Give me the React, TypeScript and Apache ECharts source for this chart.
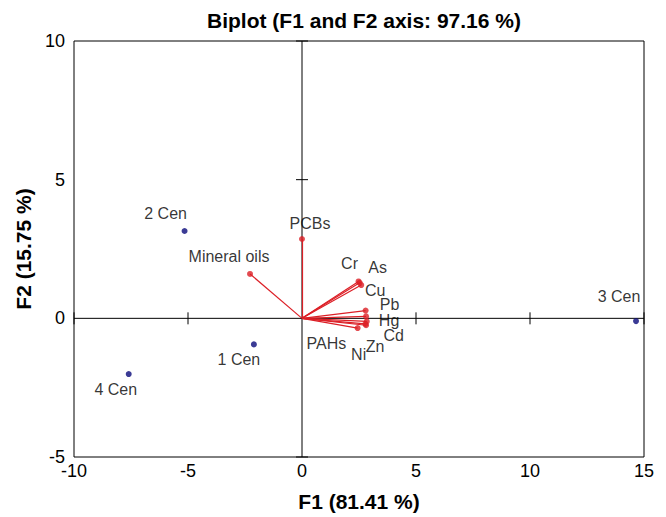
import React, { useEffect, useRef } from "react";
import * as echarts from "echarts";

const obsNames = ["1 Cen", "2 Cen", "3 Cen", "4 Cen"];
const obsF1 = [-2.11, -5.15, 14.65, -7.6];
const obsF2 = [-0.94, 3.15, -0.1, -2.01];

const varNames = ["PCBs", "Mineral oils", "Cr", "As", "Cu", "Pb", "Hg", "Cd", "Zn", "Ni", "PAHs"];
const varF1 = [0.0, -2.28, 2.48, 2.53, 2.6, 2.79, 2.81, 2.84, 2.81, 2.44, 2.78];
const varF2 = [2.86, 1.6, 1.33, 1.28, 1.2, 0.28, 0.07, -0.11, -0.25, -0.35, -0.2];

const xTicks = [-10, -5, 0, 5, 10, 15];
const yTicks = [-5, 0, 5, 10];

// label placement (pixel offsets from each point)
const obsLabelOffsets = [[-15, 15], [-19, -17], [-17, -25], [-13, 15]];
const varLabelOffsets = [[8, -16], [-21, -17], [-9, -18], [18, -15], [14, 5], [24, -6], [23, 4], [27, 14], [9, 21], [1, 26], [-39, 20]];

const FONT = "'Liberation Sans', Arial, sans-serif";
const RED = "#dc1f26";
const NAVY = "#0a0a7a";

export default function App() {
  const ref = useRef<HTMLDivElement>(null);
  useEffect(() => {
    if (!ref.current) return;
    const chart = echarts.init(ref.current, null, { renderer: "svg" });
    const xMin = xTicks[0], xMax = xTicks[xTicks.length - 1];
    const yMin = yTicks[0], yMax = yTicks[yTicks.length - 1];
    const option: any = {
      animation: false,
      title: {
        text: "Biplot (F1 and F2 axis: 97.16 %)",
        left: 359,
        textAlign: "center",
        top: 5,
        textStyle: { fontFamily: FONT, fontWeight: "bold", fontSize: 21, color: "#000" },
      },
      grid: { left: 74, right: 22, top: 41, bottom: 58, show: true, borderColor: "#000", borderWidth: 1, backgroundColor: "transparent" },
      xAxis: {
        type: "value", min: xMin, max: xMax, interval: 5,
        axisLine: { show: false }, axisTick: { show: false }, splitLine: { show: false },
        axisLabel: { color: "#000", fontSize: 18, fontFamily: FONT, margin: 5 },
        name: "F1 (81.41 %)", nameLocation: "middle", nameGap: 34,
        nameTextStyle: { fontFamily: FONT, fontWeight: "bold", fontSize: 21, color: "#000" },
      },
      yAxis: {
        type: "value", min: yMin, max: yMax, interval: 5,
        axisLine: { show: false }, axisTick: { show: false }, splitLine: { show: false },
        axisLabel: { color: "#000", fontSize: 18, fontFamily: FONT, margin: 9 },
        name: "F2 (15.75 %)", nameLocation: "middle", nameGap: 33, nameRotate: 90,
        nameTextStyle: { fontFamily: FONT, fontWeight: "bold", fontSize: 21, color: "#000" },
      },
      series: [
        {
          type: "custom",
          silent: true,
          z: 1,
          data: [[0, 0]],
          renderItem: (params: any, api: any) => {
            const children: any[] = [];
            const st = { stroke: "#000", lineWidth: 1 };
            const a = api.coord([xMin, 0]);
            const b = api.coord([xMax, 0]);
            const c = api.coord([0, yMin]);
            const d = api.coord([0, yMax]);
            children.push({ type: "line", shape: { x1: a[0], y1: a[1], x2: b[0], y2: b[1] }, style: st });
            children.push({ type: "line", shape: { x1: c[0], y1: c[1], x2: d[0], y2: d[1] }, style: st });
            xTicks.filter((t) => t !== 0).forEach((t) => {
              const p = api.coord([t, 0]);
              children.push({ type: "line", shape: { x1: p[0], y1: p[1] - 6, x2: p[0], y2: p[1] + 6 }, style: st });
            });
            yTicks.filter((t) => t !== 0).forEach((t) => {
              const p = api.coord([0, t]);
              children.push({ type: "line", shape: { x1: p[0] - 6, y1: p[1], x2: p[0] + 6, y2: p[1] }, style: st });
            });
            return { type: "group", children };
          },
        },
        {
          type: "lines",
          coordinateSystem: "cartesian2d",
          silent: true,
          z: 2,
          lineStyle: { color: RED, width: 1.2, opacity: 1 },
          data: varNames.map((n, i) => ({ name: n, coords: [[0, 0], [varF1[i], varF2[i]]] })),
        },
        {
          type: "scatter",
          z: 3,
          symbolSize: 6,
          itemStyle: { color: RED },
          label: { show: true, position: "inside", color: "#000", fontSize: 16, fontFamily: FONT, formatter: (p: any) => p.name },
          data: varNames.map((n, i) => ({ name: n, value: [varF1[i], varF2[i]], label: { offset: varLabelOffsets[i] } })),
        },
        {
          type: "scatter",
          z: 3,
          symbolSize: 6,
          itemStyle: { color: NAVY },
          label: { show: true, position: "inside", color: "#000", fontSize: 16, fontFamily: FONT, formatter: (p: any) => p.name },
          data: obsNames.map((n, i) => ({ name: n, value: [obsF1[i], obsF2[i]], label: { offset: obsLabelOffsets[i] } })),
        },
      ],
    };
    chart.setOption(option);
    return () => chart.dispose();
  }, []);
  return <div ref={ref} style={{ width: 666, height: 517, position: "absolute", left: 0, top: 0, background: "#fff" }} />;
}
